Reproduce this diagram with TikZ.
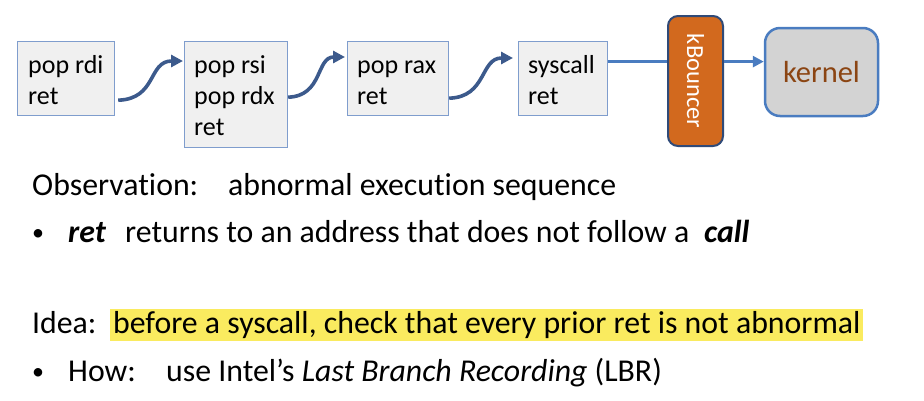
\documentclass[tikz,border=0pt]{standalone}
\usepackage{fontspec}
\setmainfont{Carlito}[Ligatures=NoCommon]
\usetikzlibrary{arrows.meta,calc}
\definecolor{boxfill}{RGB}{240,240,240}
\definecolor{boxline}{RGB}{127,157,205}
\definecolor{arrowblue}{RGB}{60,90,140}
\definecolor{lineblue}{RGB}{74,124,192}
\definecolor{kbfill}{RGB}{210,105,30}
\definecolor{kbline}{RGB}{47,74,120}
\definecolor{kernfill}{RGB}{211,211,211}
\definecolor{kerntext}{RGB}{139,69,19}
\definecolor{hl}{RGB}{250,235,95}
\begin{document}
\begin{tikzpicture}[x=1pt,y=-1pt,
  codebox/.style={draw=boxline,line width=1.2pt,fill=boxfill,anchor=north west,inner sep=0pt},
  codetext/.style={anchor=north west,inner sep=0pt,align=left,font=\fontsize{26}{31.3}\selectfont},
  curvy/.style={draw=arrowblue,line width=3.6pt,-{Triangle[length=12pt,width=12pt]}},
  conn/.style={draw=lineblue,line width=3pt},
  bodytext/.style={anchor=base west,inner sep=0pt,font=\fontsize{31.8}{36}\selectfont},
  bullet/.style={anchor=base west,inner sep=0pt,font=\fontsize{24}{28}\selectfont}]
\useasboundingbox (0,0) rectangle (924,400);
% code boxes
\node[codebox,minimum width=97pt,minimum height=74pt] (b1) at (17,41) {};
\node[codebox,minimum width=103pt,minimum height=106pt] (b2) at (184,41) {};
\node[codebox,minimum width=101pt,minimum height=74pt] (b3) at (347,41) {};
\node[codebox,minimum width=89pt,minimum height=74pt] (b4) at (518,41) {};
\node[codetext] (t1) at (28,51.1) {\strut pop rdi\\\strut ret};
\node[codetext] (t2) at (194,51.1) {\strut pop rsi\\\strut pop rdx\\\strut ret};
\node[codetext] (t3) at (357,51.1) {\strut pop rax\\\strut ret};
\node[codetext] (t4) at (528,51.1) {\strut syscall\\\strut ret};
% kBouncer and kernel
\node[draw=kbline,line width=2pt,fill=kbfill,rounded corners=10pt,rotate=-90,
      minimum width=130pt,minimum height=55pt,inner sep=0pt,text=white,
      font=\fontsize{24.5}{28}\selectfont] (kb) at (695.5,81) {kBouncer};
\node[draw=lineblue,line width=2.5pt,fill=kernfill,rounded corners=15pt,
      minimum width=113pt,minimum height=88pt,inner sep=0pt,text=kerntext,
      font=\fontsize{30.5}{36}\selectfont] (kn) at (821.5,72) {kernel};
% curvy arrows
\draw[curvy] ([shift={(3,-16)}]b1.south east) .. controls (157,99) and (148,61) .. ([shift={(-1,20)}]b2.north west);
\draw[curvy] ([shift={(0,-51)}]b2.south east) .. controls (323,96) and (316,57) .. ([shift={(-2,16)}]b3.north west);
\draw[curvy] ([shift={(0,-18)}]b3.south east) .. controls (487,97) and (480,58) .. ([shift={(-5,17)}]b4.north west);
% straight connectors
\coordinate (c1) at ([yshift=17pt]b4.east);
\draw[conn] (c1) -- (c1 -| kb.south);
\draw[conn,-{Triangle[length=11pt,width=11pt]}] (c1 -| kb.north) -- (c1 -| kn.west);
% body text
\node[bodytext] (obs) at (32,195) {Observation:};
\node[bodytext] (obs2) at (228,195) {abnormal execution sequence};
\node[bullet] (bul1) at (32,240) {•};
\node[bodytext] (ret) at (68,242) {\textbf{\textit{ret}}};
\node[bodytext] (ret2) at (125,242) {returns to an address that does not follow a};
\node[bodytext] (call) at (704,242) {\textbf{\textit{call}}};
\node[bodytext] (idea) at (32,333) {Idea:};
\node[bodytext,fill=hl,inner xsep=3pt,text height=24pt,text depth=8pt] (idea2) at (110,333) {before a syscall, check that every prior ret is not abnormal\hspace{3pt}};
\node[bullet] (bul2) at (32,379) {•};
\node[bodytext] (how) at (68,381) {How:};
\node[bodytext] (how2) at (166,381) {use Intel’s \textit{Last Branch Recording} (LBR)};
\end{tikzpicture}
\end{document}
